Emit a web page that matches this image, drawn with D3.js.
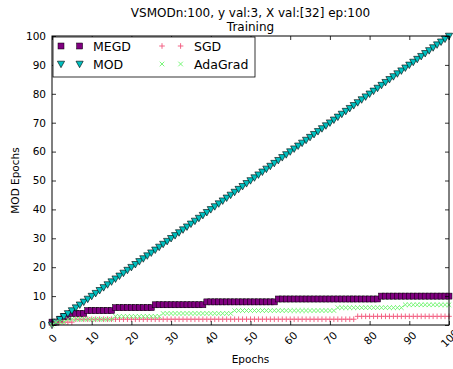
<!DOCTYPE html>
<html>
<head>
<meta charset="utf-8">
<script src="https://cdn.jsdelivr.net/npm/d3@7"></script>
<style>
  body { margin: 0; background: #fff; }
  svg { font-family: "DejaVu Sans", sans-serif; }
</style>
</head>
<body>
<div id="chart"></div>
<script>
// epochs 0..100, one marker per epoch
const epochs = d3.range(0, 101);

// step levels: [first epoch, value]
const megdSteps = [[0, 1], [2, 2], [3, 3], [5, 4], [9, 5], [16, 6], [26, 7], [39, 8], [57, 9], [83, 10]];
const sgdSteps = [[0, 0], [1, 1], [6, 2], [77, 3]];
const adagradSteps = [[0, 0], [1, 1], [4, 2], [16, 3], [28, 4], [46, 5], [72, 6], [89, 7]];
// MOD climbs one per epoch
const modValues = epochs.slice();

const xTicks = [0, 10, 20, 30, 40, 50, 60, 70, 80, 90, 100];
const yTicks = [0, 10, 20, 30, 40, 50, 60, 70, 80, 90, 100];

function expand(steps) {
    return epochs.map(function (e) {
        let v = steps[0][1];
        steps.forEach(function (s) { if (e >= s[0]) v = s[1]; });
        return v;
    });
}

const series = [
    { name: 'MEGD', values: expand(megdSteps), color: '#800080', marker: 'square' },
    { name: 'MOD', values: modValues, color: '#00bfbf', marker: 'tri' },
    { name: 'SGD', values: expand(sgdSteps), color: '#f2557a', marker: 'plus' },
    { name: 'AdaGrad', values: expand(adagradSteps), color: '#6cf56c', marker: 'cross' }
];

const W = 453, H = 369;
const margin = { top: 36, right: 4, bottom: 44, left: 52 };
const width = W - margin.left - margin.right,
    height = H - margin.top - margin.bottom;

const svg = d3.select('#chart').append('svg')
    .attr('width', W).attr('height', H);

const x = d3.scaleLinear().domain([0, 100]).range([0, width]);
const y = d3.scaleLinear().domain([0, 100]).range([height, 0]);

const main = svg.append('g')
    .attr('transform', 'translate(' + margin.left + ',' + margin.top + ')');

function drawMarker(g, type, color) {
    if (type === 'square') {
        g.append('rect').attr('x', -3).attr('y', -3).attr('width', 6).attr('height', 6)
            .attr('fill', color).attr('stroke', '#000').attr('stroke-width', 0.5);
    } else if (type === 'tri') {
        g.append('path').attr('d', 'M-3.6,-2.8L3.6,-2.8L0,3.7Z')
            .attr('fill', color).attr('stroke', '#000').attr('stroke-width', 0.6);
    } else if (type === 'plus') {
        g.append('path').attr('d', 'M-2.8,0H2.8M0,-2.8V2.8')
            .attr('stroke', color).attr('stroke-width', 0.9).attr('fill', 'none');
    } else {
        g.append('path').attr('d', 'M-2.3,-2.3L2.3,2.3M-2.3,2.3L2.3,-2.3')
            .attr('stroke', color).attr('stroke-width', 0.9).attr('fill', 'none');
    }
}

const plot = main.append('g');
series.forEach(function (s) {
    const g = plot.append('g').attr('class', 'series');
    s.values.forEach(function (v, i) {
        const m = g.append('g').attr('transform', 'translate(' + x(epochs[i]) + ',' + y(v) + ')');
        drawMarker(m, s.marker, s.color);
    });
});

// axes, ticks inside on all four sides
const axBottom = main.append('g').attr('transform', 'translate(0,' + height + ')')
    .call(d3.axisBottom(x).tickValues(xTicks).tickSize(-4).tickFormat(d3.format('d')));
axBottom.selectAll('text')
    .attr('y', null).attr('dy', null)
    .attr('transform', 'translate(0,13) rotate(-45)')
    .attr('dominant-baseline', 'central')
    .style('text-anchor', 'middle');
main.append('g')
    .call(d3.axisTop(x).tickValues(xTicks).tickSize(-4).tickFormat(''));
main.append('g')
    .call(d3.axisLeft(y).tickValues(yTicks).tickSize(-4).tickPadding(6).tickFormat(d3.format('d')));
main.append('g').attr('transform', 'translate(' + width + ',0)')
    .call(d3.axisRight(y).tickValues(yTicks).tickSize(-4).tickFormat(''));

main.selectAll('.domain').remove();
main.selectAll('.tick line').attr('stroke', '#000').attr('stroke-width', 0.8);
main.selectAll('.tick text').attr('font-size', 10.5).attr('fill', '#000')
    .attr('font-family', '"DejaVu Sans", sans-serif');

main.append('rect').attr('width', width).attr('height', height)
    .attr('fill', 'none').attr('stroke', '#000').attr('stroke-width', 1);

// titles
svg.append('text').attr('x', margin.left + width / 2).attr('y', 17)
    .attr('text-anchor', 'middle').attr('font-size', 12)
    .text('VSMODn:100, y val:3, X val:[32] ep:100');
svg.append('text').attr('x', margin.left + width / 2).attr('y', 30.5)
    .attr('text-anchor', 'middle').attr('font-size', 12)
    .text('Training');
svg.append('text').attr('x', margin.left + width / 2).attr('y', 363)
    .attr('text-anchor', 'middle').attr('font-size', 10.5)
    .text('Epochs');
svg.append('text').attr('transform', 'translate(19,' + (margin.top + height / 2) + ') rotate(-90)')
    .attr('text-anchor', 'middle').attr('font-size', 10.5)
    .text('MOD Epochs');

// legend, two columns
const legend = main.append('g').attr('transform', 'translate(1,1)');
legend.append('rect').attr('width', 202).attr('height', 40)
    .attr('fill', '#fff').attr('stroke', '#000').attr('stroke-width', 0.8);
series.forEach(function (s, i) {
    const col = Math.floor(i / 2), row = i % 2;
    const gx = 8 + col * 101, gy = 9 + row * 18;
    [0, 18.6].forEach(function (dx) {
        const m = legend.append('g').attr('transform', 'translate(' + (gx + dx) + ',' + gy + ')');
        drawMarker(m, s.marker, s.color);
    });
    legend.append('text').attr('x', gx + 32).attr('y', gy + 4.5)
        .attr('font-size', 12.5).text(s.name);
});
</script>
</body>
</html>
